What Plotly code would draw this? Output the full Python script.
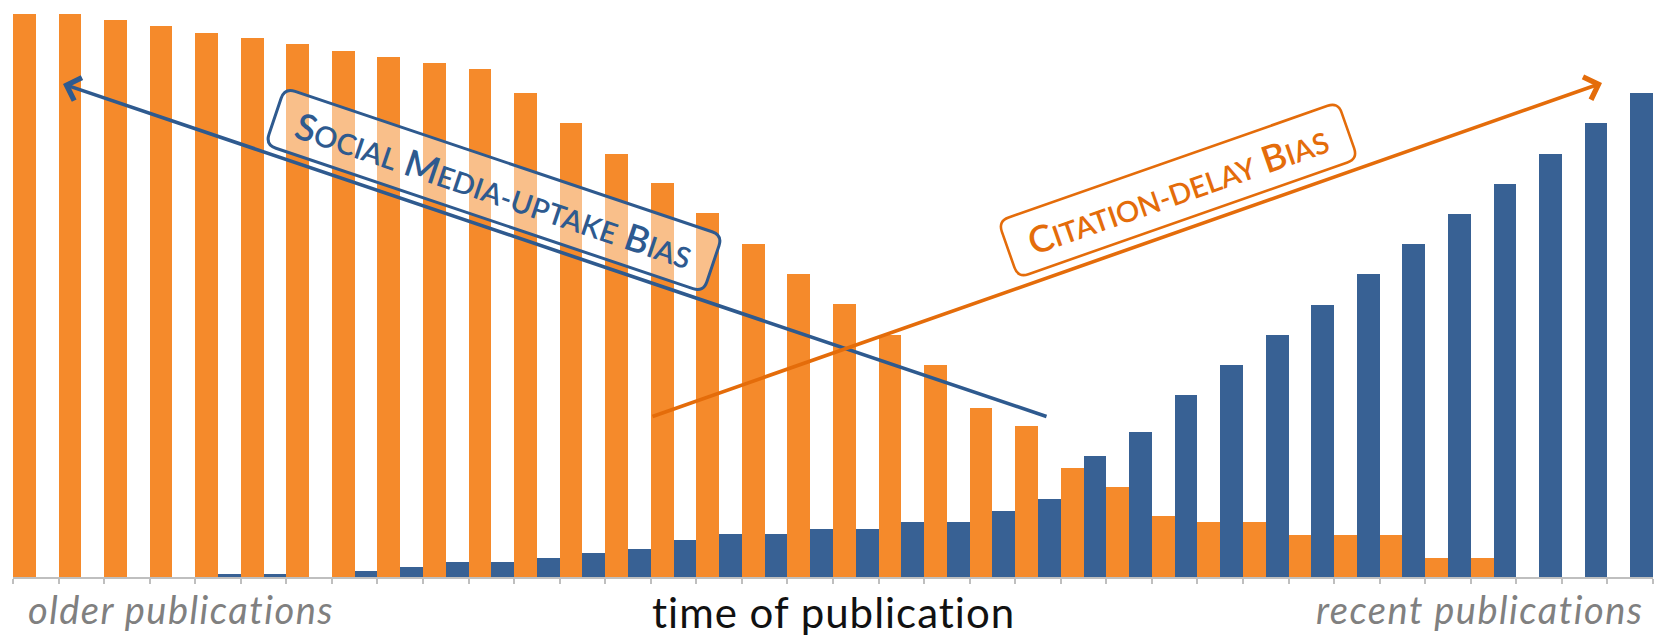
import math
import plotly.graph_objects as go

# ---- data (heights relative to the tallest bar = 100) ----
periods = [f"P{i:02d}" for i in range(1, 37)]
citations = [100, 100, 98.9, 97.9, 96.7, 95.7, 94.6, 93.5, 92.4, 91.3, 90.3, 86.0,
             80.6, 75.2, 69.9, 64.6, 59.1, 53.8, 48.5, 43.0, 37.6, 30.0, 26.9, 19.3,
             16.0, 10.8, 9.7, 9.7, 7.5, 7.5, 7.5, 3.3, 3.3, 0, 0, 0]
social_media = [0, 0, 0, 0, 0.6, 0.6, 0, 1.1, 1.7, 2.7, 2.7, 3.3,
                4.3, 4.9, 6.5, 7.6, 7.6, 8.6, 8.6, 9.7, 9.7, 11.8, 13.9, 21.5,
                25.8, 32.3, 37.6, 43.0, 48.4, 53.8, 59.1, 64.5, 69.8, 75.2, 80.6, 85.9]

ORANGE = "#F58A2B"
BLUE = "#386194"
ORANGE_DARK = "#E46C0A"
BLUE_DARK = "#2E5A8F"
GRAY = "#808080"
FONT = "Lato"

W, H = 1660, 638
ML, MR, MT, MB = 13, 7, 14, 61

fig = go.Figure()
fig.add_trace(go.Bar(x=periods, y=citations, marker=dict(color=ORANGE, line=dict(width=0)),
                     name="citations"))
fig.add_trace(go.Bar(x=periods, y=social_media, marker=dict(color=BLUE, line=dict(width=0)),
                     name="social media"))

pw = W - ML - MR
ph = H - MT - MB


def px(xp):
    return (xp - ML) / pw


def py(yp):
    return (H - MB - yp) / ph


def smallcaps(words, small):
    out = []
    for w in words:
        out.append(f"{w[0]}<span style='font-size:{small}px'>{w[1:]}</span>")
    return " ".join(out)


def spaced(text, sp):
    return f"<span style='letter-spacing:{sp}px'>{text}</span>"


def rounded_box(cx, cy, w, h, r, angle):
    """Rotated rounded rectangle (pixel geometry) as an SVG path in paper coords."""
    a = math.radians(angle)
    ca, sa = math.cos(a), math.sin(a)

    def pt(u, v):
        X = cx + u * ca - v * sa
        Y = cy + u * sa + v * ca
        return f"{px(X):.5f},{py(Y):.5f}"

    hw, hh = w / 2, h / 2
    d = [f"M{pt(-hw + r, -hh)}",
         f"L{pt(hw - r, -hh)}", f"Q{pt(hw, -hh)} {pt(hw, -hh + r)}",
         f"L{pt(hw, hh - r)}", f"Q{pt(hw, hh)} {pt(hw - r, hh)}",
         f"L{pt(-hw + r, hh)}", f"Q{pt(-hw, hh)} {pt(-hw, hh - r)}",
         f"L{pt(-hw, -hh + r)}", f"Q{pt(-hw, -hh)} {pt(-hw + r, -hh)}", "Z"]
    return " ".join(d)


BLUE_BOX = dict(cx=494, cy=190, w=462, h=60, angle=18.6)
ORANGE_BOX = dict(cx=1178, cy=190, w=360, h=60, angle=-19.3)

shapes = [
    dict(type="path", xref="paper", yref="paper", layer="above",
         path=rounded_box(BLUE_BOX["cx"], BLUE_BOX["cy"], BLUE_BOX["w"], BLUE_BOX["h"], 11,
                          BLUE_BOX["angle"]),
         fillcolor="rgba(255,255,255,0.45)", line=dict(color=BLUE_DARK, width=3)),
    dict(type="path", xref="paper", yref="paper", layer="above",
         path=rounded_box(ORANGE_BOX["cx"], ORANGE_BOX["cy"], ORANGE_BOX["w"], ORANGE_BOX["h"], 11,
                          ORANGE_BOX["angle"]),
         fillcolor="rgba(255,255,255,0.45)", line=dict(color=ORANGE_DARK, width=2.6)),
]

annotations = [
    # Social media uptake arrow (points towards older publications)
    dict(x=px(63), y=py(84), xref="paper", yref="paper", ax=985, ay=333,
         axref="pixel", ayref="pixel", text="", showarrow=True, arrowhead=4,
         arrowsize=1.3, arrowwidth=3.6, arrowcolor=BLUE_DARK, standoff=0, startstandoff=0),
    # Citation delay arrow (points towards recent publications)
    dict(x=px(1602), y=py(83), xref="paper", yref="paper", ax=-951, ay=334,
         axref="pixel", ayref="pixel", text="", showarrow=True, arrowhead=4,
         arrowsize=1.3, arrowwidth=3.6, arrowcolor=ORANGE_DARK, standoff=0, startstandoff=0),
    # Labels
    dict(x=px(BLUE_BOX["cx"]), y=py(BLUE_BOX["cy"]), xref="paper", yref="paper", showarrow=False,
         text=smallcaps(["SOCIAL", "MEDIA-UPTAKE", "BIAS"], 29),
         font=dict(family=FONT, size=37, color=BLUE_DARK, weight=600),
         textangle=BLUE_BOX["angle"], xanchor="center", yanchor="middle"),
    dict(x=px(ORANGE_BOX["cx"]), y=py(ORANGE_BOX["cy"]), xref="paper", yref="paper", showarrow=False,
         text=smallcaps(["CITATION-DELAY", "BIAS"], 29),
         font=dict(family=FONT, size=37, color=ORANGE_DARK, weight=600),
         textangle=ORANGE_BOX["angle"], xanchor="center", yanchor="middle"),
    # Axis texts
    dict(x=px(26), y=py(609), xref="paper", yref="paper", showarrow=False,
         text="<i>" + spaced("older publications", 1.5) + "</i>", xanchor="left", yanchor="middle",
         font=dict(family=FONT, size=38, color=GRAY)),
    dict(x=px(1646), y=py(609), xref="paper", yref="paper", showarrow=False,
         text="<i>" + spaced("recent publications", 1.5) + "</i>", xanchor="right", yanchor="middle",
         font=dict(family=FONT, size=38, color=GRAY)),
    dict(x=px(833), y=py(612), xref="paper", yref="paper", showarrow=False,
         text=spaced("time of publication", 1.0), xanchor="center", yanchor="middle",
         font=dict(family=FONT, size=42, color="#111111")),
]

fig.update_layout(
    width=W, height=H,
    margin=dict(l=ML, r=MR, t=MT, b=MB, pad=0),
    paper_bgcolor="white", plot_bgcolor="white",
    barmode="group", bargap=0, bargroupgap=0,
    showlegend=False,
    annotations=annotations,
    shapes=shapes,
    xaxis=dict(type="category", showticklabels=False, ticks="outside", tickson="boundaries",
               ticklen=5, tickcolor="#BFBFBF", tickwidth=1.5, showline=True,
               linecolor="#BFBFBF", linewidth=1.5, showgrid=False, zeroline=False,
               fixedrange=True),
    yaxis=dict(range=[0, 100], visible=False, showgrid=False, zeroline=False, fixedrange=True),
)

fig.write_html("out.html", config={"displayModeBar": False},
               post_script="document.body.style.margin='0px';document.body.style.overflow='hidden';")
